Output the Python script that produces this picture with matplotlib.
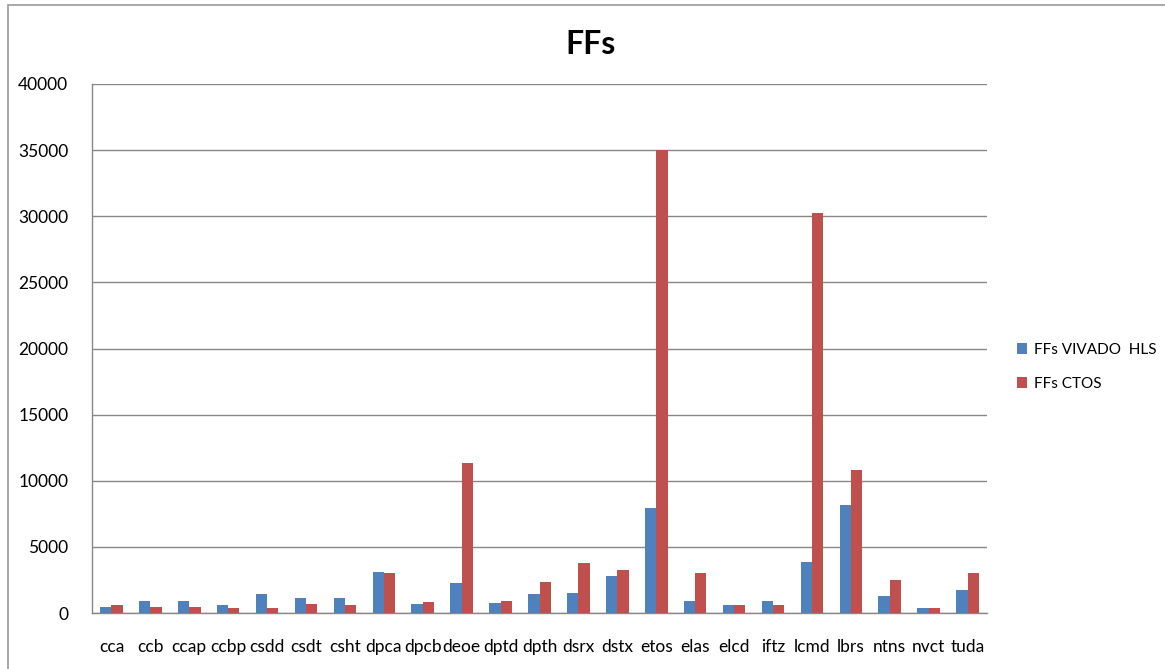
import numpy as np
import matplotlib.pyplot as plt
from matplotlib.patches import Rectangle

plt.rcParams['font.family'] = ['Lato', 'DejaVu Sans']

# data
categories = ['cca', 'ccb', 'ccap', 'ccbp', 'csdd', 'csdt', 'csht', 'dpca', 'dpcb',
              'deoe', 'dptd', 'dpth', 'dsrx', 'dstx', 'etos', 'elas', 'elcd', 'iftz',
              'lcmd', 'lbrs', 'ntns', 'nvct', 'tuda']
ffs_vivado = [455, 910, 910, 580, 1440, 1110, 1110, 3130, 680, 2300, 785, 1440,
              1540, 2800, 7950, 910, 580, 910, 3890, 8190, 1315, 380, 1745]
ffs_ctos = [580, 455, 455, 380, 380, 680, 580, 3030, 810, 11370, 910, 2375,
            3765, 3235, 35000, 3030, 580, 580, 30250, 10840, 2500, 380, 3030]
series_names = ['FFs VIVADO  HLS', 'FFs CTOS']

blue = '#4F81BD'
red = '#C0504D'
grid_col = '#888888'

fig = plt.figure(figsize=(11.65, 6.69), dpi=100)
ax = fig.add_axes([92 / 1165, 1 - 613 / 669, (987 - 92) / 1165, (613 - 84) / 669])

# outer chart frame
fig.patches.append(Rectangle((8 / 1165, -0.1), 1.2, 1 - 5 / 669 + 0.1,
                             transform=fig.transFigure, fill=False,
                             edgecolor='#9a9a9a', linewidth=1.2))

x = np.arange(len(categories))
w = 0.29
ax.bar(x - w / 2, ffs_vivado, w, color=blue, label=series_names[0], zorder=3)
ax.bar(x + w / 2, ffs_ctos, w, color=red, label=series_names[1], zorder=3)

ax.set_xlim(-0.5, len(categories) - 0.5)
ax.set_ylim(0, 40000)
ax.set_yticks(np.arange(0, 40001, 5000))
ax.set_xticks(x)
ax.set_xticklabels(categories, fontsize=12.5)
ax.tick_params(axis='y', labelsize=12.5, length=0, pad=17)
ax.tick_params(axis='x', length=0, pad=19)
ax.grid(axis='y', color=grid_col, linewidth=1, zorder=0)

for side in ['top', 'right']:
    ax.spines[side].set_visible(False)
for side in ['left', 'bottom']:
    ax.spines[side].set_color(grid_col)
    ax.spines[side].set_linewidth(1)

fig.text(590 / 1165, 1 - 45 / 669, 'FFs', fontsize=23, fontweight='bold',
         ha='center', va='center')

fig.legend(loc='center left', bbox_to_anchor=(1003 / 1165, 1 - 367 / 669),
           frameon=False, fontsize=11, handlelength=0.7, handleheight=0.7,
           labelspacing=1.3, handletextpad=0.4)

fig.savefig('out.png', dpi=100)
